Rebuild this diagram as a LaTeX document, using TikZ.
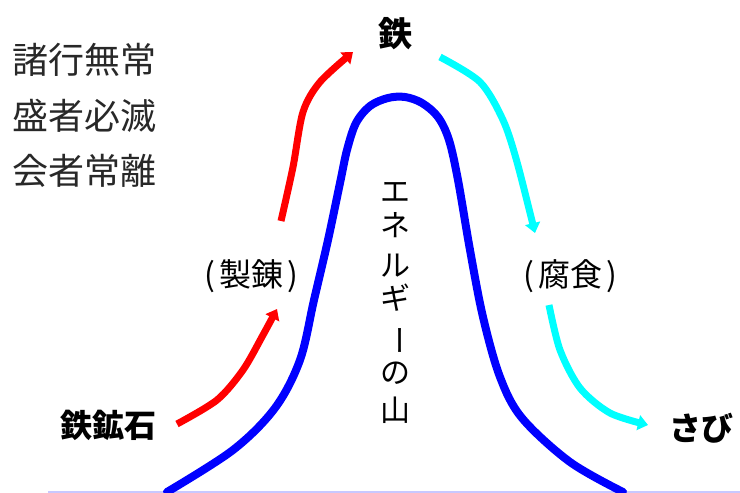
\documentclass[tikz,border=0pt]{standalone}
\usepackage{fontspec}
\newfontfamily\jp{Noto Sans CJK JP}
\usetikzlibrary{arrows.meta}
\definecolor{mtblue}{RGB}{0,0,255}
\definecolor{groundblue}{RGB}{200,200,255}
\definecolor{redarr}{RGB}{255,0,0}
\definecolor{cyanarr}{RGB}{0,255,255}
\definecolor{txtgray}{RGB}{40,40,40}
\tikzset{
  mountain/.style={draw=mtblue, line width=8pt, line join=round, line cap=round},
  ground/.style={draw=groundblue, line width=1.2pt},
  uparrow/.style={draw=redarr, line width=7pt, -{Triangle[length=10pt,width=15pt]}},
  downarrow/.style={draw=cyanarr, line width=7pt, -{Triangle[length=10pt,width=15pt]}},
  boldlabel/.style={font=\jp\bfseries\fontsize{32}{34}\selectfont, inner sep=0pt},
  thinlabel/.style={font=\jp\fontsize{32}{34}\selectfont, inner sep=0pt},
  vchar/.style={font=\jp\fontsize{30}{32}\selectfont, inner sep=0pt},
  poem/.style={font=\jp\fontsize{36}{38}\selectfont, text=txtgray, inner sep=0pt, anchor=west},
}
\begin{document}
\begin{tikzpicture}[x=1pt,y=-1pt]
\useasboundingbox[fill=white] (0,0) rectangle (740,493);
% base line
\coordinate (bl) at (48,492);
\coordinate (br) at (740,492);
\draw[ground] (bl) -- (br);
% energy mountain
\draw[mountain] plot[smooth, tension=0.55] coordinates {
 (167,492) (233,450) (275,408) (300,360) (314,300) (328,240) (340,183)
 (347,150) (356,123) (370,106) (388,98) (405,97) (422,103) (438,117)
 (449,140) (458,180) (470,250)
 (483,317) (500,377) (522,418) (570,462) (623,492)};
% labels
\node[boldlabel, font=\jp\bfseries\fontsize{34}{36}\selectfont] (iron) at (395,34) {鉄};
\node[boldlabel] (ore) at (108,425) {鉄鉱石};
\node[boldlabel] (rust) at (701,428) {さび};
\node[thinlabel] (smelt) at (251,276) {(\hspace{4pt}製錬\hspace{4pt})};
\node[thinlabel] (corr) at (570,276) {(\hspace{4pt}腐食\hspace{4pt})};
% vertical text
\node[vchar] (v1) at (395,192) {エ};
\node[vchar] (v2) at (395,225) {ネ};
\node[vchar] (v3) at (395,266) {ル};
\node[vchar] (v4) at (395,298) {ギ};
\node[vchar, rotate=-90] (v5) at (395,340) {ー};
\node[vchar] (v6) at (395,373) {の};
\node[vchar] (v7) at (395,410) {山};
% poem
\node[poem] (p1) at (12,60) {諸行無常};
\node[poem] (p2) at (12,116) {盛者必滅};
\node[poem] (p3) at (12,171) {会者常離};
% arrows
\coordinate (r1s) at (177,424);
\coordinate (r1e) at (277,309);
\draw[uparrow] plot[smooth] coordinates {(r1s) (217,400) (243,370) (263,335) (r1e)};
\coordinate (r2s) at (281,221);
\coordinate (r2e) at (353,52);
\draw[uparrow] plot[smooth] coordinates {(r2s) (293,167) (303,112) (320,82) (r2e)};
\coordinate (c1s) at (440,57);
\coordinate (c1e) at (535,233);
\draw[downarrow] plot[smooth] coordinates {(c1s) (480,82) (503,120) (517,162) (c1e)};
\coordinate (c2s) at (549,305);
\coordinate (c2e) at (648,425);
\draw[downarrow] plot[smooth] coordinates {(c2s) (560,350) (580,388) (610,413) (c2e)};
\end{tikzpicture}
\end{document}
